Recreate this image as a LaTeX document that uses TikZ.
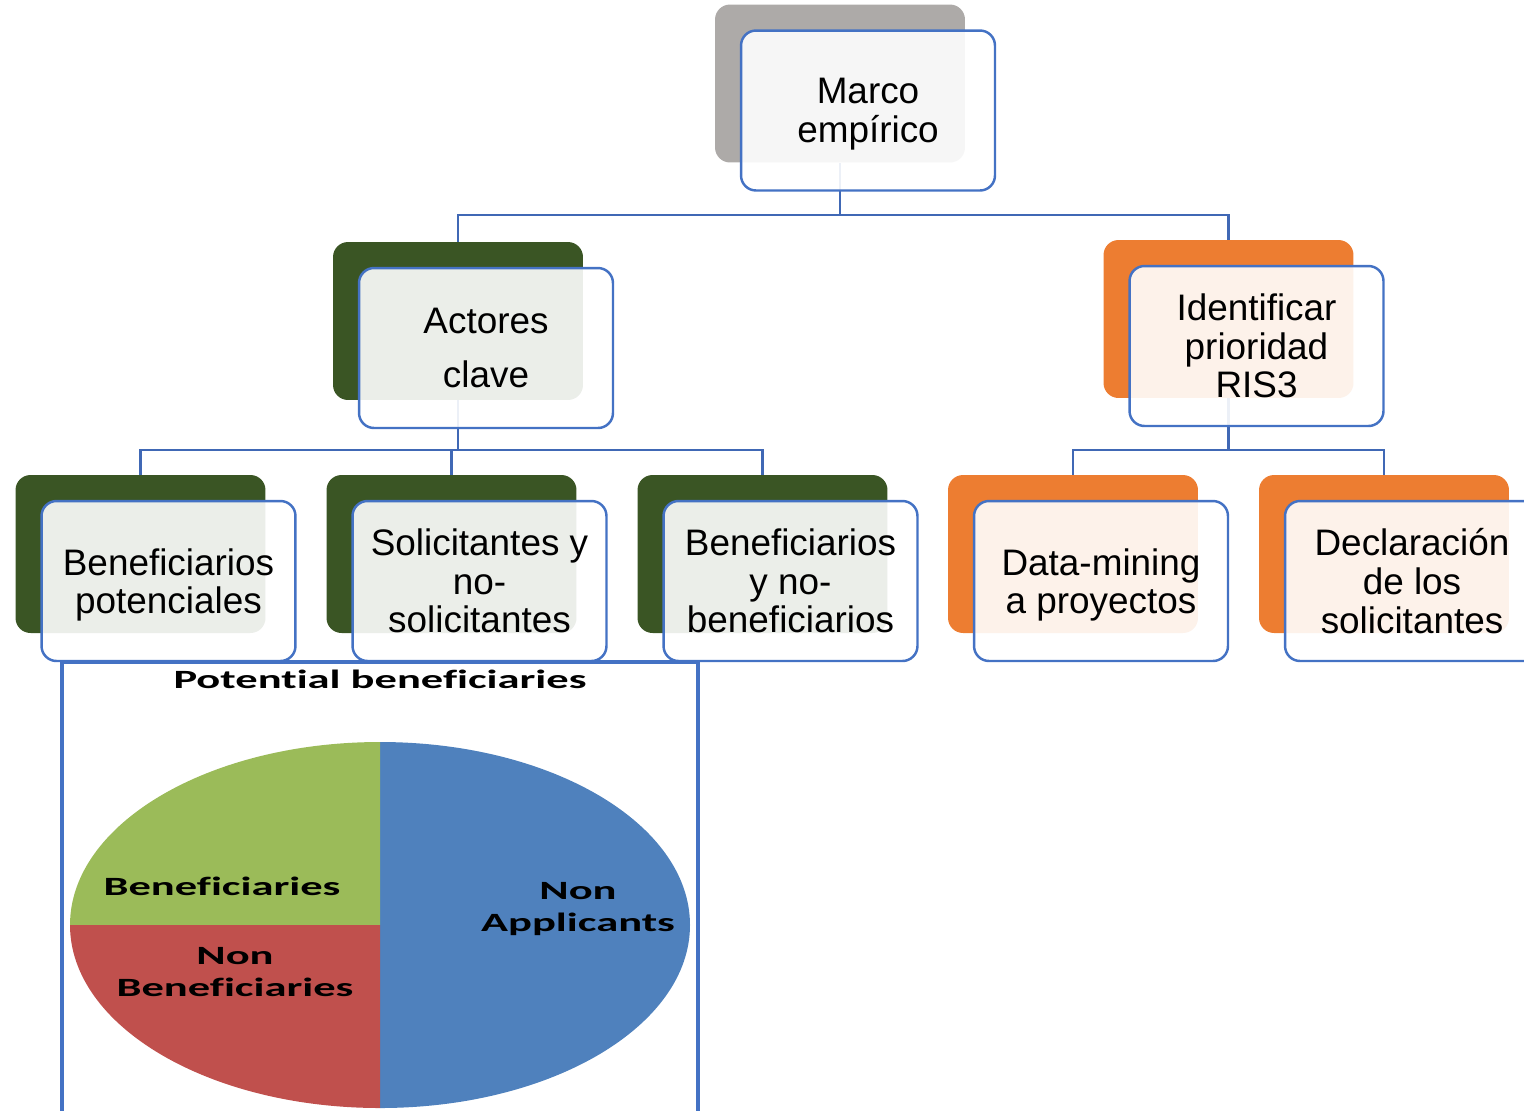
\documentclass[tikz,border=0pt]{standalone}
\usepackage{fontspec}
\usepackage{graphicx}
\setmainfont{Liberation Sans}
\newfontfamily\chartfont[Ligatures=NoCommon]{Carlito}
\usepackage{tikz}
\definecolor{greyback}{HTML}{ADAAA8}
\definecolor{greenback}{HTML}{3A5524}
\definecolor{orangeback}{HTML}{ED7D31}
\definecolor{boxblue}{HTML}{4472C4}
\definecolor{lineblue}{HTML}{4068B5}
\definecolor{pieblue}{HTML}{4F81BD}
\definecolor{piegreen}{HTML}{9BBB59}
\definecolor{piered}{HTML}{C0504D}
\tikzstyle{backbox} = [rectangle, rounded corners=0.3cm, minimum width=5cm, minimum height=3.16cm, inner sep=0pt]
\tikzstyle{frontbox} = [rectangle, rounded corners=0.3cm, minimum width=5.08cm, minimum height=3.2cm, draw=boxblue, line width=1.4pt, fill=white, fill opacity=0.9, text opacity=1, align=center, inner sep=0pt, font=\fontsize{21}{22}\selectfont]
\tikzstyle{conn} = [draw=lineblue, line width=1.6pt]
\tikzstyle{chartframe} = [draw=boxblue, line width=2pt]
\tikzstyle{pielabel} = [align=center, inner sep=0pt, font=\chartfont\bfseries\fontsize{15}{18}\selectfont]

\begin{document}
\begin{tikzpicture}[x=0.02cm, y=-0.02cm]
\clip (0,0) rectangle (1524,1110);
% back boxes
\node (marcoBack) [backbox, fill=greyback] at (840,83.5) {};
\node (actoresBack) [backbox, fill=greenback] at (458,321) {};
\node (identBack) [backbox, fill=orangeback] at (1228.5,319) {};
\node (benBack) [backbox, fill=greenback] at (140.5,554) {};
\node (solBack) [backbox, fill=greenback] at (451.5,554) {};
\node (benyBack) [backbox, fill=greenback] at (762.5,554) {};
\node (dataBack) [backbox, fill=orangeback] at (1073,554) {};
\node (declBack) [backbox, fill=orangeback] at (1384,554) {};

% connectors
\draw [conn] (marcoBack.south) -- (marcoBack.south |- 0,215) -| (actoresBack.north);
\draw [conn] (marcoBack.south |- 0,215) -| (identBack.north);
\draw [conn] (actoresBack.south) -- (actoresBack.south |- 0,450) -| (benBack.north);
\draw [conn] (actoresBack.south |- 0,450) -| (solBack.north);
\draw [conn] (actoresBack.south |- 0,450) -| (benyBack.north);
\draw [conn] (identBack.south) -- (identBack.south |- 0,450) -| (dataBack.north);
\draw [conn] (identBack.south |- 0,450) -| (declBack.north);

% front boxes
\node (marco) [frontbox] at ([shift={(28,27)}]marcoBack.center) {Marco\\\smash{empírico}};
\node (actores) [frontbox, font=\fontsize{21}{30.5}\selectfont] at ([shift={(28,27)}]actoresBack.center) {Actores\\clave};
\node (ident) [frontbox] at ([shift={(28,27)}]identBack.center) {Identificar\\prioridad\\RIS3};
\node (ben) [frontbox] at ([shift={(28,27)}]benBack.center) {Beneficiarios\\\smash{potenciales}};
\node (sol) [frontbox] at ([shift={(28,27)}]solBack.center) {Solicitantes y\\no-\\solicitantes};
\node (beny) [frontbox] at ([shift={(28,27)}]benyBack.center) {Beneficiarios\\y no-\\beneficiarios};
\node (data) [frontbox] at ([shift={(28,27)}]dataBack.center) {Data-mining\\\smash{a proyectos}};
\node (decl) [frontbox] at ([shift={(28,27)}]declBack.center) {Declaración\\de los\\solicitantes};

% chart
\draw [chartframe] (62,1120) -- (62,662) -- (698,662) -- (698,1120);
\begin{scope}[shift={(380,925)}, y=0.02cm]
\fill [pieblue] (0,0) -- (0,183) arc [start angle=90, end angle=-90, x radius=310, y radius=183] -- cycle;
\fill [piegreen] (0,0) -- (0,183) arc [start angle=90, end angle=180, x radius=310, y radius=183] -- cycle;
\fill [piered] (0,0) -- (-310,0) arc [start angle=180, end angle=270, x radius=310, y radius=183] -- cycle;
\end{scope}
\node (title) [pielabel] at (380,679) {\scalebox{1.69}[1]{Potential beneficiaries}};
\node (lblBen) [pielabel] at (222,886) {\scalebox{1.69}[1]{Beneficiaries}};
\node (lblNonBen) [pielabel] at (235,974) {\scalebox{1.69}[1]{\begin{tabular}{@{}c@{}}Non\\Beneficiaries\end{tabular}}};
\node (lblNonApp) [pielabel] at (578,909) {\scalebox{1.69}[1]{\begin{tabular}{@{}c@{}}Non\\Applicants\end{tabular}}};
\end{tikzpicture}
\end{document}
